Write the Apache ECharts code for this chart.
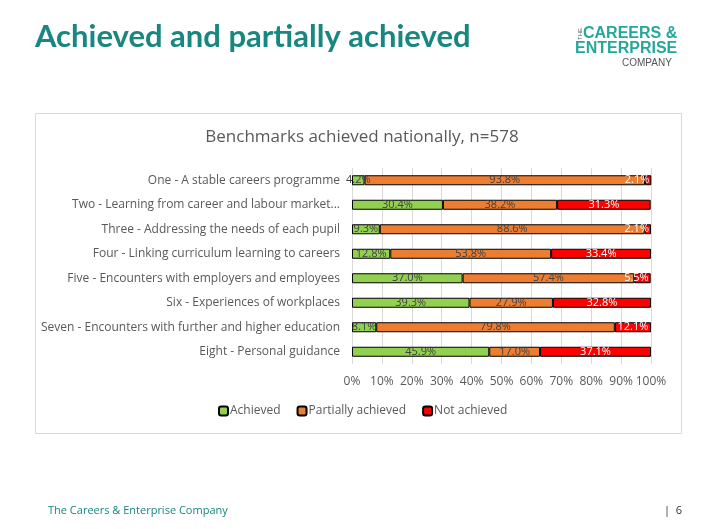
<!DOCTYPE html>
<html><head><meta charset="utf-8">
<script src="https://cdn.jsdelivr.net/npm/echarts@6/dist/echarts.min.js"></script>
<style>html,body{margin:0;padding:0;background:#fff}#c{width:706px;height:529px}</style>
</head><body><div id="c"></div>
<script>
const categories = [
  "One - A stable careers programme",
  "Two - Learning from career and labour market...",
  "Three - Addressing the needs of each pupil",
  "Four - Linking curriculum learning to careers",
  "Five - Encounters with employers and employees",
  "Six - Experiences of workplaces",
  "Seven - Encounters with further and higher education",
  "Eight - Personal guidance"
];
const achieved = [4.2, 30.4, 9.3, 12.8, 37.0, 39.3, 8.1, 45.9];
const partially = [93.8, 38.2, 88.6, 53.8, 57.4, 27.9, 79.8, 17.0];
const notAchieved = [2.1, 31.3, 2.1, 33.4, 5.5, 32.8, 12.1, 37.1];
const xTicks = [0, 10, 20, 30, 40, 50, 60, 70, 80, 90, 100];

const F = "'Open Sans', 'Liberation Sans', sans-serif";
const chart = echarts.init(document.getElementById('c'));
function mk(name, data, color, lblColor, smallRight) {
  return {
    name, type: 'bar', stack: 'a', barWidth: 10,
    data: data.map(v => (smallRight && v < 6)
      ? { value: v, label: { position: 'insideRight', distance: 2 } } : v),
    itemStyle: { color, borderColor: '#000', borderWidth: 1 },
    label: { show: true, position: 'inside', formatter: p => p.value.toFixed(1) + '%',
      color: lblColor, fontFamily: F, fontSize: 11, overflow: 'none' },
    labelLayout: { hideOverlap: false }
  };
}
chart.setOption({
  animation: false,
  title: { text: 'Benchmarks achieved nationally, n=578', left: 357, top: 124, textAlign: 'center',
    textStyle: { color: '#595959', fontFamily: F, fontSize: 17, fontWeight: 'normal' } },
  grid: { left: 352, right: 55, top: 168, bottom: 165, containLabel: false },
  legend: { left: 218, top: 405, padding: 0, itemWidth: 9, itemHeight: 9, itemGap: 16,
    textStyle: { color: '#595959', fontFamily: F, fontSize: 12, padding: [0, 0, 0, -3] },
    data: ['Achieved', 'Partially achieved', 'Not achieved'] },
  xAxis: { type: 'value', min: 0, max: 100, interval: 10,
    axisLabel: { formatter: v => v + '%', color: '#595959', fontFamily: F, fontSize: 12, margin: 12,
      customValues: xTicks },
    splitLine: { lineStyle: { color: '#d9d9d9' } }, axisLine: { show: false }, axisTick: { show: false } },
  yAxis: { type: 'category', data: categories, inverse: true,
    axisLabel: { color: '#595959', fontFamily: F, fontSize: 12, margin: 12 },
    axisLine: { show: false }, axisTick: { show: false } },
  series: [
    mk('Achieved', achieved, '#92d050', '#404040', false),
    mk('Partially achieved', partially, '#ed7d31', '#404040', false),
    mk('Not achieved', notAchieved, '#ff0000', '#ffffff', true)
  ],
  graphic: [
    { type: 'rect', shape: { x: 35.5, y: 113.5, width: 646, height: 320 }, z: -1,
      style: { fill: '#fff', stroke: '#d9d9d9', lineWidth: 1 } },
    { type: 'text', left: 35, top: 21, style: { text: 'Achieved and partially achieved',
      fill: '#17877f', font: "bold 31px Lato, 'Open Sans', sans-serif" } },
    { type: 'text', left: 583, top: 26, style: { text: 'CAREERS &', fill: '#25a89b',
      font: "bold 16px 'Liberation Sans', sans-serif" } },
    { type: 'text', left: 575, top: 41, style: { text: 'ENTERPRISE', fill: '#25a89b',
      font: "bold 16px 'Liberation Sans', sans-serif" } },
    { type: 'text', left: 622, top: 58, style: { text: 'COMPANY', fill: '#555',
      font: "10px 'Liberation Sans', sans-serif" } },
    { type: 'text', x: 577, y: 40, rotation: Math.PI / 2, style: { text: 'THE', fill: '#555',
      font: "6px 'Liberation Sans', sans-serif" } },
    { type: 'text', left: 48, top: 505, style: { text: 'The Careers & Enterprise Company', fill: '#17877f',
      font: "11px 'Open Sans', sans-serif" } },
    { type: 'text', left: 664, top: 505, style: { text: '|  6', fill: '#333',
      font: "11px 'Open Sans', sans-serif" } }
  ]
});
</script></body></html>
